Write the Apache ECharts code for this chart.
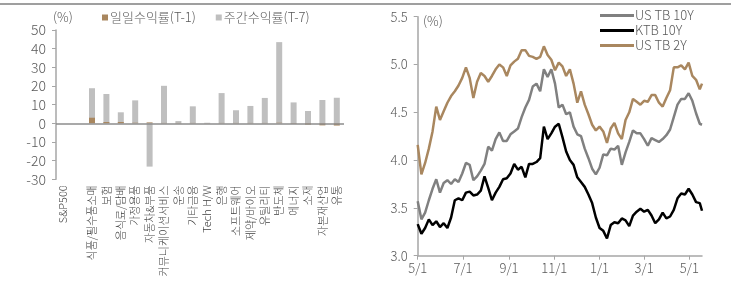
<!DOCTYPE html>
<html>
<head>
<meta charset="utf-8">
<script src="https://cdn.jsdelivr.net/npm/echarts@6/dist/echarts.min.js"></script>
<style>
  html, body { margin: 0; padding: 0; background: #fff; }
  #chart { width: 731px; height: 285px; }
</style>
</head>
<body>
<div id="chart"></div>
<script>
// left: sector returns (%)
const sectors = ['S&P500', '', '식품/필수품소매', '보험', '음식료/담배', '가정용품', '자동차&부품',
  '커뮤니케이션서비스', '운송', '기타금융', 'Tech H/W', '은행', '소프트웨어', '제약/바이오',
  '유틸리티', '반도체', '에너지', '소재', '자본재산업', '유통'];
const dailyRet = [0, null, 3.0, 0.7, 0.7, 0.3, 0.5, 0.2, 0.2, 0.2, 0.1, 0.2, 0.2, 0.2, 0.2, 0.3, -0.3, -0.7, -1.1, -1.2];
const weeklyRet = [0, null, 18.8, 15.7, 5.9, 12.3, -23.2, 20.1, 1.2, 9.1, 0.3, 16.2, 7.0, 9.3, 13.6, 43.5, 11.2, 6.6, 12.5, 13.7];

// right: yields (%), days counted from 2023-05-01, sampled every 5 days
const rateDays = Array.from({ length: 77 }, (_, i) => i * 5).concat([383]);
const us10y = [3.57, 3.38, 3.45, 3.58, 3.70, 3.80, 3.66, 3.76, 3.79, 3.75, 3.80, 3.77, 3.86, 3.97, 3.95, 3.79, 3.83, 3.89, 3.96, 4.14,
  4.10, 4.22, 4.29, 4.20, 4.20, 4.27, 4.30, 4.33, 4.45, 4.55, 4.63, 4.77, 4.80, 4.72, 4.95, 4.87, 4.95, 4.80, 4.55, 4.58,
  4.48, 4.50, 4.35, 4.27, 4.25, 4.12, 4.02, 3.91, 3.85, 3.92, 4.06, 4.05, 4.12, 4.11, 4.15, 3.95, 4.08, 4.19, 4.31, 4.28,
  4.28, 4.22, 4.15, 4.23, 4.21, 4.19, 4.22, 4.26, 4.32, 4.45, 4.58, 4.64, 4.64, 4.70, 4.62, 4.49, 4.38,
  4.37];
const ktb10y = [3.33, 3.23, 3.29, 3.38, 3.32, 3.36, 3.30, 3.34, 3.29, 3.40, 3.58, 3.60, 3.58, 3.66, 3.67, 3.63, 3.64, 3.68, 3.83, 3.71,
  3.58, 3.66, 3.72, 3.80, 3.81, 3.86, 3.96, 3.90, 3.93, 3.82, 3.96, 3.96, 3.98, 4.02, 4.35, 4.22, 4.28, 4.35, 4.38, 4.24,
  4.09, 4.00, 3.95, 3.82, 3.77, 3.72, 3.64, 3.55, 3.40, 3.29, 3.26, 3.18, 3.32, 3.35, 3.34, 3.39, 3.37, 3.31, 3.42, 3.46,
  3.49, 3.46, 3.48, 3.42, 3.34, 3.38, 3.45, 3.39, 3.41, 3.48, 3.60, 3.65, 3.64, 3.70, 3.64, 3.56, 3.55,
  3.47];
const us2y = [4.16, 3.85, 3.97, 4.12, 4.30, 4.56, 4.42, 4.51, 4.60, 4.67, 4.72, 4.78, 4.86, 4.97, 4.86, 4.65, 4.82, 4.91, 4.88, 4.82,
  4.88, 4.95, 5.00, 4.97, 4.88, 4.99, 5.03, 5.06, 5.15, 5.15, 5.09, 5.08, 5.06, 5.08, 5.19, 5.10, 5.05, 4.94, 5.02, 4.98,
  4.88, 4.95, 4.80, 4.60, 4.72, 4.58, 4.48, 4.37, 4.31, 4.35, 4.30, 4.18, 4.33, 4.39, 4.28, 4.22, 4.42, 4.50, 4.64, 4.61,
  4.58, 4.62, 4.61, 4.68, 4.68, 4.60, 4.56, 4.65, 4.73, 4.97, 4.97, 4.99, 4.95, 5.02, 4.88, 4.84, 4.74,
  4.80];
const tickDays = [0, 61, 123, 184, 245, 305, 366];
const tickLabels = ['5/1', '7/1', '9/1', '11/1', '1/1', '3/1', '5/1'];

const FONT = '"Noto Sans CJK KR", "Noto Sans", sans-serif';
const TXT = '#595959';
const AXIS = '#a6a6a6';

function pairs(vals) {
  return rateDays.map(function (d, i) { return [d, vals[i]]; });
}

const chart = echarts.init(document.getElementById('chart'), null, { renderer: 'canvas' });

const option = {
  animation: false,
  textStyle: { fontFamily: FONT, fontWeight: 300 },
  graphic: [
    { type: 'line', shape: { x1: 0, y1: 4, x2: 731, y2: 4 }, style: { stroke: '#7f7f7f', lineWidth: 1.5 } },
    { type: 'text', left: 53, top: 11, style: { text: '(%)', fill: TXT, font: '300 13px ' + FONT } },
    { type: 'text', left: 423, top: 15, style: { text: '(%)', fill: TXT, font: '300 13px ' + FONT } }
  ],
  legend: [
    {
      left: 102, top: 11, padding: 0, itemWidth: 6, itemHeight: 6, itemGap: 20, icon: 'rect',
      data: ['일일수익률(T-1)', '주간수익률(T-7)'],
      textStyle: { fontSize: 13, fontWeight: 300, color: TXT, padding: [0, 0, 0, -3] }
    },
    {
      orient: 'vertical', left: 600, top: 9, padding: 0, itemWidth: 34, itemHeight: 3, itemGap: 2, icon: 'rect',
      data: ['US TB 10Y', 'KTB 10Y', 'US TB 2Y'],
      textStyle: { fontSize: 13, fontWeight: 300, color: TXT, lineHeight: 13, padding: [0, 0, 0, -4] }
    }
  ],
  grid: [
    { left: 56, right: 387, top: 30, bottom: 105.7 },
    { left: 417.7, right: 29, top: 16.7, bottom: 29.3 }
  ],
  xAxis: [
    {
      gridIndex: 0, type: 'category', data: sectors,
      axisLine: { show: false, onZero: false }, axisTick: { show: false },
      axisLabel: { rotate: 90, interval: 0, margin: 6, fontSize: 11, fontWeight: 300, color: '#404040' }
    },
    {
      gridIndex: 1, type: 'value', min: 0, max: 383,
      splitLine: { show: false },
      axisLine: { lineStyle: { color: AXIS, width: 1.5 } },
      axisTick: { customValues: tickDays, length: 4, lineStyle: { color: AXIS } },
      axisLabel: {
        customValues: tickDays, fontSize: 13, fontWeight: 300, color: TXT, margin: 6,
        formatter: function (v) { return tickLabels[tickDays.indexOf(v)]; }
      }
    }
  ],
  yAxis: [
    {
      gridIndex: 0, type: 'value', min: -30, max: 50, interval: 10,
      splitLine: { show: false },
      axisLine: { show: true, lineStyle: { color: AXIS, width: 1.5 } },
      axisTick: { show: true, length: 4, lineStyle: { color: AXIS } },
      axisLabel: { fontSize: 14, fontWeight: 300, color: TXT, margin: 10 }
    },
    {
      gridIndex: 1, type: 'value', min: 3.0, max: 5.5, interval: 0.5,
      splitLine: { show: false },
      axisLine: { show: true, lineStyle: { color: AXIS, width: 1.5 } },
      axisTick: { show: true, length: 4, lineStyle: { color: AXIS } },
      axisLabel: { fontSize: 13, fontWeight: 300, color: TXT, margin: 10, formatter: function (v) { return v.toFixed(1); } }
    }
  ],
  series: [
    {
      name: '주간수익률(T-7)', type: 'bar', xAxisIndex: 0, yAxisIndex: 0,
      data: weeklyRet, barWidth: 6, barGap: '-100%',
      itemStyle: { color: '#bfbfbf' },
      markLine: {
        silent: true, symbol: 'none', label: { show: false },
        lineStyle: { color: '#8c8c8c', width: 1.5, type: 'solid' },
        data: [{ yAxis: 0 }]
      }
    },
    {
      name: '일일수익률(T-1)', type: 'bar', xAxisIndex: 0, yAxisIndex: 0,
      data: dailyRet, barWidth: 6, barGap: '-100%',
      itemStyle: { color: '#a9875f' }
    },
    {
      name: 'US TB 10Y', type: 'line', xAxisIndex: 1, yAxisIndex: 1,
      data: pairs(us10y), showSymbol: false,
      lineStyle: { color: '#808080', width: 2.5 }, itemStyle: { color: '#808080' }
    },
    {
      name: 'KTB 10Y', type: 'line', xAxisIndex: 1, yAxisIndex: 1,
      data: pairs(ktb10y), showSymbol: false,
      lineStyle: { color: '#000000', width: 2.5 }, itemStyle: { color: '#000000' }
    },
    {
      name: 'US TB 2Y', type: 'line', xAxisIndex: 1, yAxisIndex: 1,
      data: pairs(us2y), showSymbol: false,
      lineStyle: { color: '#a9875f', width: 2.5 }, itemStyle: { color: '#a9875f' }
    }
  ]
};

chart.setOption(option);
</script>
</body>
</html>
